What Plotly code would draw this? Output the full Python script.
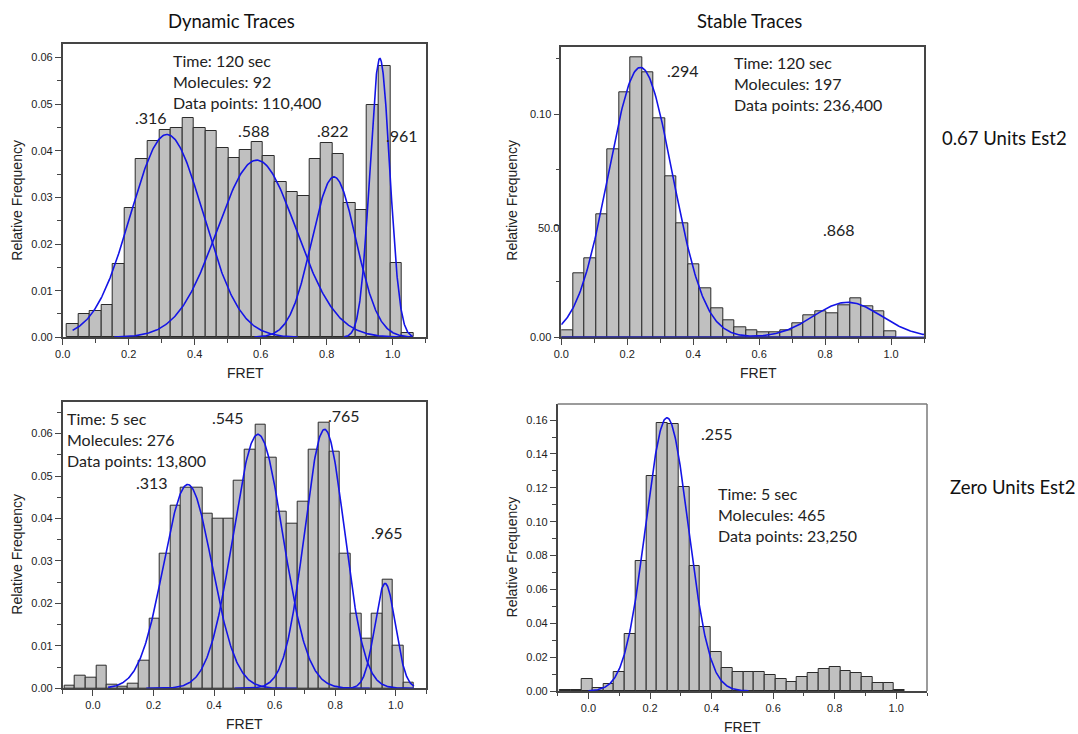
import numpy as np
import plotly.graph_objects as go

W, H = 1078, 734
BIN_WIDTH = 0.035

# ---- Dynamic traces, 0.67 units Est2 (120 s) ----
dyn_a_bin_start = 0.0125
dyn_a_freq = [0.0029, 0.0051, 0.0056, 0.0069, 0.0158, 0.0278, 0.0382, 0.0420, 0.0444, 0.0448,
              0.0471, 0.0448, 0.0442, 0.0405, 0.0384, 0.0401, 0.0419, 0.0388, 0.0332, 0.0311,
              0.0304, 0.0382, 0.0416, 0.0394, 0.0287, 0.0272, 0.0499, 0.0581, 0.0160, 0.0009]
dyn_a_mu = [0.316, 0.588, 0.822, 0.961]
dyn_a_amp = [0.0435, 0.0380, 0.0344, 0.0598]
dyn_a_sigma = [0.110, 0.120, 0.067, 0.030]
dyn_a_peak_labels = [".316", ".588", ".822", ".961"]
dyn_a_info = ["Time: 120 sec", "Molecules: 92", "Data points: 110,400"]

# ---- Stable traces, 0.67 units Est2 (120 s) ----
stab_a_bin_start = 0.0
stab_a_freq = [0.0033, 0.0287, 0.0354, 0.0552, 0.0842, 0.1100, 0.1254, 0.1190, 0.0982, 0.0722,
               0.0510, 0.0328, 0.0219, 0.0130, 0.0075, 0.0043, 0.0030, 0.0021, 0.0021, 0.0033,
               0.0061, 0.0099, 0.0115, 0.0109, 0.0143, 0.0175, 0.0140, 0.0116, 0.0025]
stab_a_mu = [0.240, 0.868]
stab_a_amp = [0.1210, 0.0157]
stab_a_sigma = [0.097, 0.103]
stab_a_offset = 0.0
stab_a_peak_labels = [".294", ".868"]
stab_a_info = ["Time: 120 sec", "Molecules: 197", "Data points: 236,400"]

# ---- Dynamic traces, zero units Est2 (5 s) ----
dyn_b_bin_start = -0.094
dyn_b_freq = [0.0005, 0.0029, 0.0026, 0.0053, 0.0009, 0.0003, 0.0012, 0.0064, 0.0165, 0.0316,
              0.0431, 0.0473, 0.0473, 0.0412, 0.0400, 0.0400, 0.0490, 0.0562, 0.0621, 0.0542,
              0.0417, 0.0388, 0.0439, 0.0562, 0.0626, 0.0558, 0.0316, 0.0175, 0.0118, 0.0175,
              0.0256, 0.0100, 0.0014]
dyn_b_mu = [0.313, 0.545, 0.765, 0.965]
dyn_b_amp = [0.0480, 0.0598, 0.0610, 0.0247]
dyn_b_sigma = [0.080, 0.082, 0.066, 0.034]
dyn_b_peak_labels = [".313", ".545", ".765", ".965"]
dyn_b_info = ["Time: 5 sec", "Molecules: 276", "Data points: 13,800"]

# ---- Stable traces, zero units Est2 (5 s) ----
stab_b_bin_start = -0.092
stab_b_freq = [0.0004, 0.0004, 0.0069, 0.0020, 0.0041, 0.0114, 0.0335, 0.0768, 0.1270, 0.1584,
               0.1575, 0.1203, 0.0740, 0.0376, 0.0232, 0.0134, 0.0110, 0.0110, 0.0110, 0.0094,
               0.0071, 0.0055, 0.0081, 0.0108, 0.0128, 0.0140, 0.0120, 0.0108, 0.0081, 0.0049,
               0.0045, 0.0004]
stab_b_mu = [0.255]
stab_b_amp = [0.1614]
stab_b_sigma = [0.069]
stab_b_peak_labels = [".255"]
stab_b_info = ["Time: 5 sec", "Molecules: 465", "Data points: 23,250"]

column_titles = ["Dynamic Traces", "Stable Traces"]
row_titles = ["0.67 Units Est2", "Zero Units Est2"]

# ---- styling ----
BAR_FILL = "#c0c0c0"
BAR_EDGE = "#2b2b2b"
FIT_BLUE = "#1414e6"
AXIS_DARK = "#454545"
TEXT = "#222222"
TICK_FONT = dict(family="Liberation Sans, Arial", size=11, color=TEXT)
TITLE_FONT = dict(family="Liberation Sans, Arial", size=14, color=TEXT)
NOTE_FONT = dict(family="Lato, Open Sans", size=16, color=TEXT)
HEAD_FONT = dict(family="Lato, Open Sans", size=18.5, color="#111111")


def px(x, y):
    return x / W, 1 - y / H


def bin_centers(start, n):
    return start + BIN_WIDTH * (np.arange(n) + 0.5)


def gauss(x, mu, amp, sigma):
    return amp * np.exp(-((x - mu) ** 2) / (2 * sigma ** 2))


fig = go.Figure()

panels = [
    dict(ax="", start=dyn_a_bin_start, freq=dyn_a_freq),
    dict(ax="2", start=stab_a_bin_start, freq=stab_a_freq),
    dict(ax="3", start=dyn_b_bin_start, freq=dyn_b_freq),
    dict(ax="4", start=stab_b_bin_start, freq=stab_b_freq),
]
for p in panels:
    fig.add_trace(go.Bar(
        x=bin_centers(p["start"], len(p["freq"])), y=p["freq"], width=BIN_WIDTH,
        marker=dict(color=BAR_FILL, line=dict(color=BAR_EDGE, width=1)),
        xaxis="x" + p["ax"], yaxis="y" + p["ax"], hoverinfo="skip"))


def add_separate_fits(ax, mus, amps, sigmas, lo, hi, nsig):
    for mu, amp, sg in zip(mus, amps, sigmas):
        xs = np.linspace(max(lo, mu - nsig * sg), min(hi, mu + nsig * sg), 300)
        fig.add_trace(go.Scatter(x=xs, y=gauss(xs, mu, amp, sg), mode="lines",
                                 line=dict(color=FIT_BLUE, width=1.6),
                                 xaxis="x" + ax, yaxis="y" + ax, hoverinfo="skip"))


add_separate_fits("", dyn_a_mu, dyn_a_amp, dyn_a_sigma, 0.03, 1.06, 3.6)
add_separate_fits("3", dyn_b_mu, dyn_b_amp, dyn_b_sigma, 0.05, 1.06, 4.5)
add_separate_fits("4", stab_b_mu, stab_b_amp, stab_b_sigma, 0.0, 0.52, 4.5)

# two-state cumulative fit with its baseline
xs2 = np.linspace(0.0, 1.1, 400)
ys2 = stab_a_offset + sum(gauss(xs2, m, a, s) for m, a, s in zip(stab_a_mu, stab_a_amp, stab_a_sigma))
fig.add_trace(go.Scatter(x=[0.0, 1.1], y=[stab_a_offset, stab_a_offset], mode="lines",
                         line=dict(color=FIT_BLUE, width=1.6), xaxis="x2", yaxis="y2", hoverinfo="skip"))
fig.add_trace(go.Scatter(x=xs2, y=ys2, mode="lines", line=dict(color=FIT_BLUE, width=1.6),
                         xaxis="x2", yaxis="y2", hoverinfo="skip"))


def xaxis(domain, rng, anchor, layer="above traces", color=AXIS_DARK):
    return dict(domain=domain, range=rng, tick0=0, dtick=0.2, tickformat=".1f", anchor=anchor,
                ticks="outside", ticklen=6, tickwidth=1, tickcolor=color,
                minor=dict(ticks="outside", dtick=0.1, ticklen=3.5, tickcolor=color),
                showline=True, linecolor=color, linewidth=1.5, mirror=True, automargin=False,
                showgrid=False, zeroline=False, tickfont=TICK_FONT, layer=layer, fixedrange=True)


def yaxis(domain, rng, dtick, minor, anchor, fmt=".2f", color=AXIS_DARK):
    return dict(domain=domain, range=rng, tick0=0, dtick=dtick, tickformat=fmt,
                ticks="outside", ticklen=6, tickwidth=1, tickcolor=color,
                minor=dict(ticks="outside", dtick=minor, ticklen=3.5, tickcolor=color),
                showline=True, linecolor=color, linewidth=1.5, mirror=True, automargin=False,
                showgrid=False, zeroline=False, tickfont=TICK_FONT, anchor=anchor, fixedrange=True)


y1 = yaxis([1 - 337.3 / H, 1 - 44 / H], [0, 0.0629], 0.01, 0.005, "x")
y2 = yaxis([1 - 337.3 / H, 1 - 47.3 / H], [0, 0.13], 0.05, 0.025, "x2")
y2.update(tickmode="array", tickvals=[0, 0.05, 0.10], ticktext=["0.00", "", "0.10"])
y3 = yaxis([1 - 688.3 / H, 1 - 401.7 / H], [0, 0.0675], 0.01, 0.005, "x3")
y4 = yaxis([1 - 691 / H, 1 - 404 / H], [0, 0.1695], 0.02, 0.01, "x4")
y4.update(mirror=False)

x1 = xaxis([62.7 / W, 425.7 / W], [0, 1.1], "y")
x2 = xaxis([561.3 / W, 924 / W], [0, 1.1], "y2", layer="below traces")
x3 = xaxis([62.7 / W, 426 / W], [-0.1, 1.1], "y3", layer="below traces")
x4 = xaxis([557.7 / W, 927 / W], [-0.1, 1.1], "y4")
x4.update(mirror=False)

annotations = []


def note(text, x, y, ref, font, xanchor="center", align="center"):
    annotations.append(dict(text=text, x=x, y=y, xref="x" + ref, yref="y" + ref,
                            xanchor=xanchor, yanchor="middle", align=align,
                            showarrow=False, font=font))


def paper_text(text, xp, yp, font, angle=0):
    x, y = px(xp, yp)
    annotations.append(dict(text=text, x=x, y=y, xref="paper", yref="paper",
                            xanchor="center", yanchor="middle", textangle=angle,
                            showarrow=False, font=font))


# peak labels
for lab, (lx, ly) in zip(dyn_a_peak_labels, [(0.269, 0.0471), (0.579, 0.0443), (0.819, 0.0443), (1.028, 0.0432)]):
    note(lab, lx, ly, "", NOTE_FONT)
for lab, (lx, ly) in zip(stab_a_peak_labels, [(0.369, 0.1197), (0.8415, 0.0485)]):
    note(lab, lx, ly, "2", NOTE_FONT)
for lab, (lx, ly) in zip(dyn_b_peak_labels, [(0.195, 0.0485), (0.446, 0.0638), (0.830, 0.0643), (0.970, 0.0366)]):
    note(lab, lx, ly, "3", NOTE_FONT)
for lab, (lx, ly) in zip(stab_b_peak_labels, [(0.418, 0.1521)]):
    note(lab, lx, ly, "4", NOTE_FONT)

# acquisition info blocks
note("<br>".join(dyn_a_info), 0.328, 0.0549, "", NOTE_FONT, xanchor="left", align="left")
note("<br>".join(stab_a_info), 0.518, 0.1137, "2", NOTE_FONT, xanchor="left", align="left")
note("<br>".join(dyn_b_info), -0.091, 0.0586, "3", NOTE_FONT, xanchor="left", align="left")
note("<br>".join(stab_b_info), 0.414, 0.1040, "4", NOTE_FONT, xanchor="left", align="left")

# odd overlapping tick text on the stable 120 s panel
xa, ya = px(561, 227.5)
annotations.append(dict(text="50.0", x=xa, y=ya, xref="paper", yref="paper", xanchor="right",
                        yanchor="middle", showarrow=False, font=TICK_FONT))

# axis titles
for (xp, yp) in [(16.7, 200), (511.7, 200), (16.7, 554), (511.7, 556.7)]:
    paper_text("Relative Frequency", xp, yp, TITLE_FONT, angle=-90)
for (xp, yp) in [(245, 373), (758.3, 373.3), (244.3, 724.3), (742.3, 726.7)]:
    paper_text("FRET", xp, yp, TITLE_FONT)

# column and row headings
paper_text(column_titles[0], 231, 21, HEAD_FONT)
paper_text(column_titles[1], 749, 21, HEAD_FONT)
paper_text(row_titles[0], 1004, 138, HEAD_FONT)
paper_text(row_titles[1], 1012, 487, HEAD_FONT)

# light frame on the stable 5 s panel (top and right edges)
frame_color = "#7a7a7a"
shapes = [
    dict(type="line", xref="paper", yref="paper", x0=557.7 / W, x1=927 / W,
         y0=1 - 404 / H, y1=1 - 404 / H, line=dict(color=frame_color, width=1.5)),
    dict(type="line", xref="paper", yref="paper", x0=927 / W, x1=927 / W,
         y0=1 - 404 / H, y1=1 - 691 / H, line=dict(color=frame_color, width=1.5)),
]

fig.update_layout(
    width=W, height=H, margin=dict(l=0, r=0, t=0, b=0, autoexpand=False),
    paper_bgcolor="white", plot_bgcolor="white", showlegend=False,
    bargap=0, annotations=annotations, shapes=shapes,
    xaxis=x1, yaxis=y1, xaxis2=x2, yaxis2=y2, xaxis3=x3, yaxis3=y3, xaxis4=x4, yaxis4=y4,
)

fig.write_html("out.html")
